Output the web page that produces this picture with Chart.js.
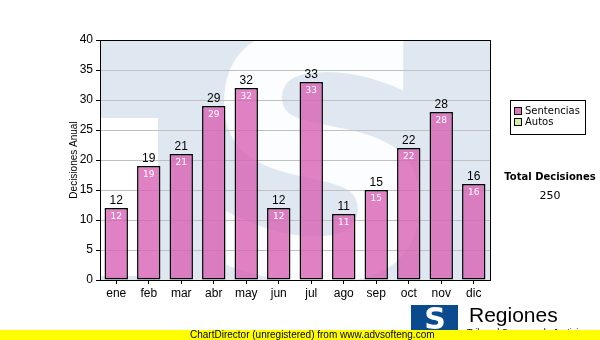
<!DOCTYPE html>
<html>
<head>
<meta charset="utf-8">
<script src="https://cdn.jsdelivr.net/npm/chart.js@4"></script>
<style>
  html, body { margin: 0; padding: 0; background: #fff; }
  #wrap { width: 600px; height: 340px; position: relative; }
</style>
</head>
<body>
<div id="wrap"><canvas id="myChart" width="600" height="340"></canvas></div>
<script>
const meses = ['ene','feb','mar','abr','may','jun','jul','ago','sep','oct','nov','dic'];
const sentencias = [12, 19, 21, 29, 32, 12, 33, 11, 15, 22, 28, 16];
const leyenda = ['Sentencias', 'Autos'];
const leyendaColores = ['#dc78c0', '#d8f0a0'];
const yTicks = [0, 5, 10, 15, 20, 25, 30, 35, 40];

const total = sentencias.reduce((a, b) => a + b, 0);

// fondo del area de trazado con la marca de agua
const fondo = {
  id: 'fondo',
  beforeDraw(chart) {
    const { ctx, chartArea: a } = chart;
    ctx.save();
    ctx.fillStyle = '#dfe8f1';
    ctx.fillRect(a.left, a.top, a.right - a.left, a.bottom - a.top);
    ctx.beginPath();
    ctx.rect(a.left, a.top, a.right - a.left, a.bottom - a.top);
    ctx.clip();
    ctx.fillStyle = '#ffffff';
    ctx.fillRect(a.left, a.top + 78, 58, 158);
    ctx.font = 'bold 340px "DejaVu Sans"';
    ctx.textAlign = 'center';
    ctx.textBaseline = 'alphabetic';
    ctx.globalAlpha = 0.9;
    ctx.fillText('S', a.left + 222, a.bottom - 2);
    ctx.restore();
  }
};

// etiquetas, marco, leyenda y pie
const extras = {
  id: 'extras',
  afterDatasetsDraw(chart) {
    const { ctx, chartArea: a } = chart;
    const meta = chart.getDatasetMeta(0);
    ctx.save();
    meta.data.forEach((bar, i) => {
      ctx.textAlign = 'center';
      ctx.fillStyle = '#000';
      ctx.font = '12px "Liberation Sans"';
      ctx.textBaseline = 'bottom';
      ctx.fillText(String(sentencias[i]), bar.x, bar.y - 1);
      ctx.fillStyle = '#fff';
      ctx.font = '9px "DejaVu Sans"';
      ctx.textBaseline = 'top';
      ctx.fillText(String(sentencias[i]), bar.x, bar.y + 4);
    });
    ctx.strokeStyle = '#000';
    ctx.lineWidth = 1;
    ctx.strokeRect(a.left + 0.5, a.top + 0.5, a.right - a.left, a.bottom - a.top);

    // leyenda
    ctx.strokeRect(510.5, 100.5, 75, 34);
    ctx.font = '10px "DejaVu Sans"';
    ctx.textAlign = 'left';
    ctx.textBaseline = 'middle';
    leyenda.forEach((t, i) => {
      const y = 111 + i * 11;
      ctx.fillStyle = leyendaColores[i];
      ctx.fillRect(514, y - 4, 8, 8);
      ctx.strokeRect(514.5, y - 3.5, 7, 7);
      ctx.fillStyle = '#000';
      ctx.fillText(t, 525, y);
    });
    ctx.textAlign = 'center';
    ctx.font = 'bold 10px "DejaVu Sans"';
    ctx.fillText('Total Decisiones', 550, 177);
    ctx.font = '11px "DejaVu Sans"';
    ctx.fillText(String(total), 550, 196);

    // logo
    ctx.fillStyle = '#0a4a8e';
    ctx.fillRect(411, 305, 47, 28);
    ctx.fillStyle = '#fff';
    ctx.font = 'bold 30px "DejaVu Sans"';
    ctx.fillText('S', 435, 321);
    ctx.fillStyle = '#000';
    ctx.textAlign = 'left';
    ctx.font = '21px "Liberation Sans"';
    ctx.fillText('Regiones', 469, 316);
    ctx.font = '9px "Liberation Sans"';
    ctx.fillText('Tribunal Supremo de Justicia', 467, 333);

    // pie amarillo
    ctx.fillStyle = '#ffff00';
    ctx.fillRect(0, 330, 600, 10);
    ctx.fillStyle = '#000';
    ctx.font = '10px "Liberation Sans"';
    ctx.textAlign = 'left';
    ctx.fillText('ChartDirector (unregistered) from www.advsofteng.com', 190, 335);
    ctx.restore();
  }
};

const ctxt = document.getElementById('myChart').getContext('2d');

const myChart = new Chart(ctxt, {
  type: 'bar',
  data: {
    labels: meses,
    datasets: [{
      label: leyenda[0],
      data: sentencias,
      backgroundColor: 'rgba(216, 98, 180, 0.8)',
      borderColor: '#000',
      borderWidth: 1.5,
      borderSkipped: false,
      barPercentage: 0.72,
      categoryPercentage: 1
    }]
  },
  options: {
    responsive: false,
    animation: false,
    layout: { padding: { left: 0, right: 110, top: 40, bottom: 0 } },
    plugins: {
      legend: { display: false },
      tooltip: { enabled: false }
    },
    scales: {
      x: {
        afterFit: (s) => { s.height = 60; },
        grid: { offset: false, drawOnChartArea: false, color: '#000', tickLength: 4 },
        border: { color: '#000' },
        ticks: { color: '#000', font: { family: 'Liberation Sans', size: 12 }, padding: 2 }
      },
      y: {
        min: 0,
        max: 40,
        afterFit: (s) => { s.width = 100; },
        afterBuildTicks: (s) => { s.ticks = yTicks.map(v => ({ value: v })); },
        grid: { color: '#c0c0c0', tickColor: '#000', tickLength: 4 },
        border: { color: '#000' },
        ticks: { color: '#000', font: { family: 'Liberation Sans', size: 12 }, padding: 3 },
        title: {
          display: true,
          text: 'Decisiones Anual',
          color: '#000',
          font: { family: 'Liberation Sans', size: 10 },
          padding: { top: 68, bottom: 0 }
        }
      }
    }
  },
  plugins: [fondo, extras]
});
</script>
</body>
</html>
